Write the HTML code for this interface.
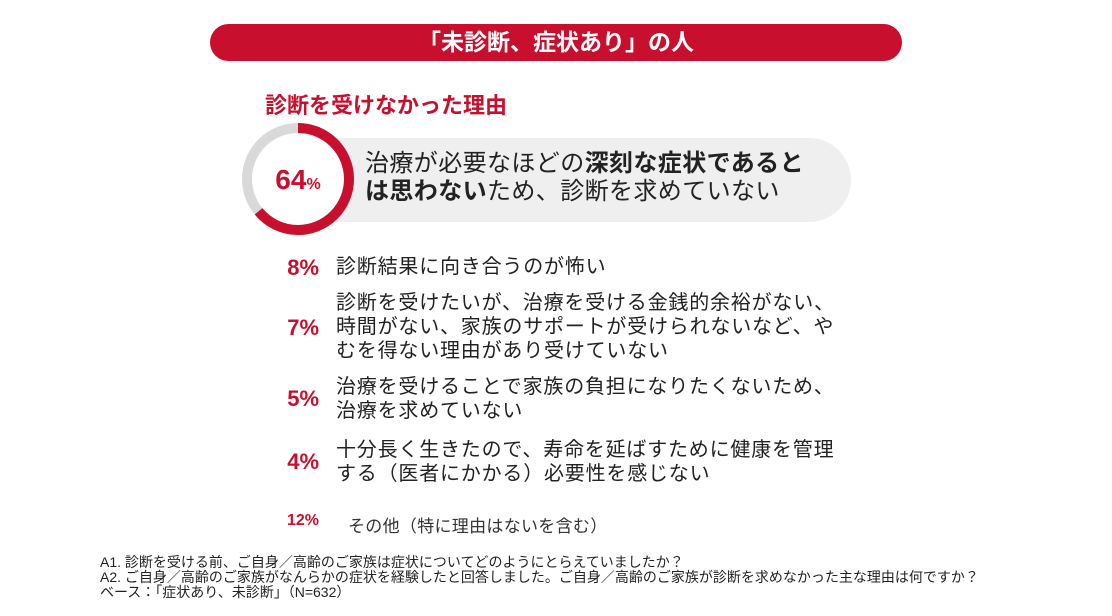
<!DOCTYPE html>
<html><head><meta charset="utf-8"><style>
body{margin:0;width:1112px;height:616px;background:#fff;position:relative;overflow:hidden;font-family:"Liberation Sans","Noto Sans CJK JP",sans-serif;color:#222}
.a{position:absolute;white-space:nowrap}
.banner{left:210px;top:24px;width:692px;height:37px;background:#c8102e;border-radius:19px;color:#fff;font-size:23px;font-weight:bold;text-align:center;line-height:37px}
.title{left:265px;top:88px;font-size:22px;color:#c8102e;font-weight:bold}
.pill{left:298px;top:138px;width:553px;height:84px;background:#efefef;border-radius:42px}
.main{left:365px;top:150px;font-size:24px;line-height:28px;color:#222;letter-spacing:0.4px}
.p{font-size:22px;font-weight:bold;color:#c8102e;width:70px;text-align:right;left:249px}
.t{left:336px;font-size:20px;line-height:24px;letter-spacing:0.8px}
.f{left:100px;font-size:14px;line-height:15px;color:#222}
</style></head><body>
<div class="a banner">「未診断、症状あり」の人</div>
<div class="a title">診断を受けなかった理由</div>
<div class="a pill"></div>
<svg class="a" style="left:238px;top:120px" width="120" height="120" viewBox="0 0 120 120">
<circle cx="60" cy="59" r="55" fill="#fff"/>
<circle cx="60" cy="59" r="51" fill="none" stroke="#d9d9d9" stroke-width="10"/>
<circle cx="60" cy="59" r="51" fill="none" stroke="#c8102e" stroke-width="10" stroke-dasharray="205 400" transform="rotate(-90 60 59)"/>
<text x="60" y="69" text-anchor="middle" font-family="Liberation Sans" font-weight="bold" font-size="28" fill="#c8102e">64<tspan font-size="16">%</tspan></text>
</svg>
<div class="a main">治療が必要なほどの<b>深刻な症状であると</b><br><b>は思わない</b>ため、診断を求めていない</div>
<div class="a p" style="top:255px">8%</div>
<div class="a t" style="top:255px">診断結果に向き合うのが怖い</div>
<div class="a p" style="top:315px">7%</div>
<div class="a t" style="top:291px">診断を受けたいが、治療を受ける金銭的余裕がない、<br>時間がない、家族のサポートが受けられないなど、や<br>むを得ない理由があり受けていない</div>
<div class="a p" style="top:386px">5%</div>
<div class="a t" style="top:375px">治療を受けることで家族の負担になりたくないため、<br>治療を求めていない</div>
<div class="a p" style="top:449px">4%</div>
<div class="a t" style="top:438px">十分長く生きたので、寿命を延ばすために健康を管理<br>する（医者にかかる）必要性を感じない</div>
<div class="a p" style="top:512px;font-size:16px">12%</div>
<div class="a" style="left:348px;top:512px;font-size:17px;color:#333;letter-spacing:0.3px">その他（特に理由はないを含む）</div>
<div class="a f" style="top:555px">A1. 診断を受ける前、ご自身／高齢のご家族は症状についてどのようにとらえていましたか？<br>A2. ご自身／高齢のご家族がなんらかの症状を経験したと回答しました。ご自身／高齢のご家族が診断を求めなかった主な理由は何ですか？<br>ベース：「症状あり、未診断」（N=632）</div>
</body></html>
